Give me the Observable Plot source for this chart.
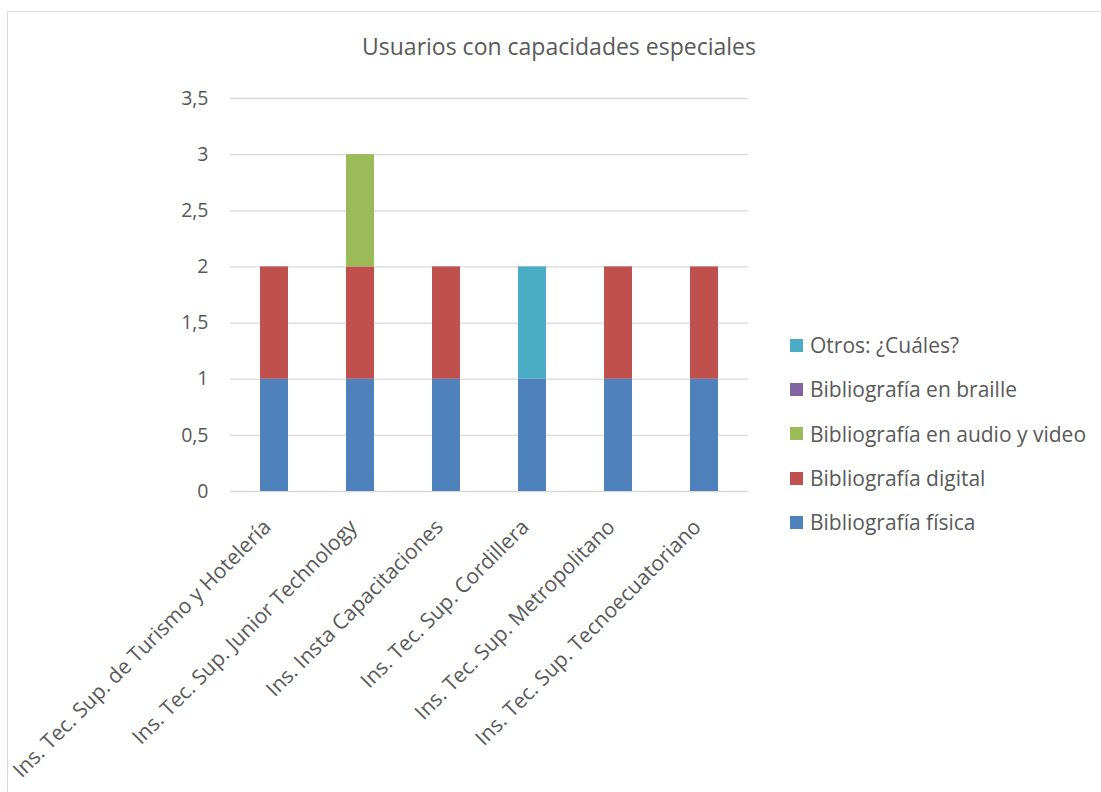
<!DOCTYPE html>
<html>
<head>
<meta charset="utf-8">
<script src="https://cdn.jsdelivr.net/npm/d3@7"></script>
<script src="https://cdn.jsdelivr.net/npm/@observablehq/plot@0.6"></script>
<style>
  html, body { margin: 0; padding: 0; background: #fff; }
  #wrap { position: relative; width: 1101px; height: 792px; overflow: hidden; font-family: "Open Sans", sans-serif; color: #595959; }
  #frame { position: absolute; left: 7px; top: 11px; width: 1200px; height: 900px; border: 1.5px solid #d9d9d9; box-sizing: border-box; }
  #title { position: absolute; left: 0; top: 30px; width: 1118px; text-align: center; font-size: 23px; }
  #chart { position: absolute; left: 0; top: 0; }
  #legend { position: absolute; left: 790px; top: 323px; font-size: 21px; }
  .item { display: flex; align-items: center; height: 44.3px; margin: 0; }
  .sw { width: 13px; height: 13px; margin-right: 7px; flex: none; }
  .item span.t { line-height: 26px; white-space: nowrap; }
</style>
</head>
<body>
<div id="wrap">
  <div id="frame"></div>
  <div id="chart"></div>
  <div id="title">Usuarios con capacidades especiales</div>
  <div id="legend"></div>
</div>
<script>
const categories = [
  "Ins. Tec. Sup. de Turismo y Hotelería",
  "Ins. Tec. Sup. Junior Technology",
  "Ins. Insta Capacitaciones",
  "Ins. Tec. Sup. Cordillera",
  "Ins. Tec. Sup. Metropolitano",
  "Ins. Tec. Sup. Tecnoecuatoriano"
];
const seriesNames = [
  "Bibliografía física",
  "Bibliografía digital",
  "Bibliografía en audio y video",
  "Bibliografía en braille",
  "Otros: ¿Cuáles?"
];
const fisica  = [1, 1, 1, 1, 1, 1];
const digital = [1, 1, 1, 0, 1, 1];
const audio   = [0, 1, 0, 0, 0, 0];
const braille = [0, 0, 0, 0, 0, 0];
const otros   = [0, 0, 0, 1, 0, 0];
const seriesColors = ["#4F81BD", "#C0504D", "#9BBB59", "#8064A2", "#4BACC6"];
const yTicks = [0, 0.5, 1, 1.5, 2, 2.5, 3, 3.5];

const seriesValues = [fisica, digital, audio, braille, otros];
const data = [];
seriesNames.forEach((s, si) => {
  categories.forEach((c, ci) => {
    data.push({category: c, series: s, value: seriesValues[si][ci]});
  });
});

const chart = Plot.plot({
  width: 1101,
  height: 792,
  marginLeft: 230,
  marginRight: 353,
  marginTop: 98,
  marginBottom: 301,
  style: {fontFamily: "Open Sans, sans-serif", fontSize: "19px", color: "#595959", background: "transparent"},
  x: {domain: categories, paddingInner: 0.675, paddingOuter: 0.3375, label: null},
  y: {domain: [0, 3.5], label: null},
  color: {domain: seriesNames, range: seriesColors},
  marks: [
    Plot.gridY(yTicks, {stroke: "#d9d9d9", strokeOpacity: 1, strokeWidth: 1.3}),
    Plot.barY(data, Plot.stackY({x: "category", y: "value", fill: "series", order: seriesNames})),
    Plot.axisY(yTicks, {tickSize: 0, tickPadding: 22, fill: "#595959", fontSize: 19.5, tickFormat: d => String(d).replace(".", ","), label: null}),
    Plot.axisX({tickSize: 0, tickRotate: -45, tickPadding: 22, dx: -7, dy: 10, fill: "#595959", fontSize: 21, label: null})
  ]
});
document.getElementById("chart").appendChild(chart);

const legend = document.getElementById("legend");
seriesNames.slice().reverse().forEach((s) => {
  const i = seriesNames.indexOf(s);
  const d = document.createElement("div");
  d.className = "item";
  d.innerHTML = `<div class="sw" style="background:${seriesColors[i]}"></div><span class="t">${s}</span>`;
  legend.appendChild(d);
});
</script>
</body>
</html>
